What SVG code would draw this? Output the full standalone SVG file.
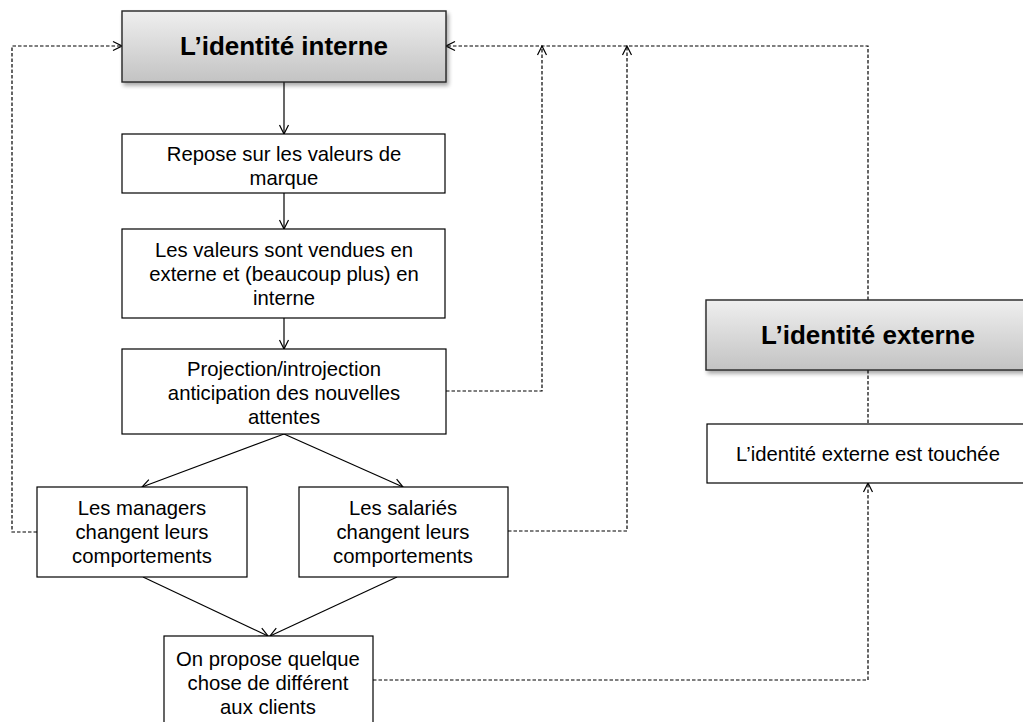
<svg xmlns="http://www.w3.org/2000/svg" width="1023" height="722" viewBox="0 0 1023 722">
<style>
.box{fill:#ffffff;stroke:#000000;stroke-width:1.2}
.hdr{fill:url(#grad);stroke:#262626;stroke-width:1.4;filter:url(#shadow)}
.t{font-family:"Liberation Sans",Arial,sans-serif;font-size:20.3px;fill:#000000;text-anchor:middle}
.h{font-family:"Liberation Sans",Arial,sans-serif;font-size:26px;font-weight:bold;fill:#000000;text-anchor:middle}
.solid{fill:none;stroke:#000000;stroke-width:1.2;marker-end:url(#arr)}
.dash{fill:none;stroke:#000000;stroke-width:1.2;stroke-dasharray:3.5 2}
.dashA{fill:none;stroke:#000000;stroke-width:1.2;stroke-dasharray:3.5 2;marker-end:url(#arr)}
</style>
<defs>
<linearGradient id="grad" x1="0" y1="0" x2="0" y2="1">
<stop offset="0" stop-color="#efefef"/>
<stop offset="1" stop-color="#c3c3c3"/>
</linearGradient>
<filter id="shadow" x="-5%" y="-10%" width="115%" height="140%">
<feGaussianBlur in="SourceAlpha" stdDeviation="2"/>
<feOffset dx="2" dy="3" result="b"/>
<feComponentTransfer><feFuncA type="linear" slope="0.35"/></feComponentTransfer>
<feMerge><feMergeNode/><feMergeNode in="SourceGraphic"/></feMerge>
</filter>
<marker id="arr" viewBox="0 0 12 12" refX="11" refY="6" markerWidth="12" markerHeight="12" markerUnits="userSpaceOnUse" orient="auto">
<path d="M2,1.5 L11,6 L2,10.5" fill="none" stroke="#000000" stroke-width="1.2"/>
</marker>
</defs>
<rect width="1023" height="722" fill="#ffffff"/>

<g id="connectors">
<line class="solid" x1="284" y1="82" x2="284" y2="134"/>
<line class="solid" x1="284" y1="193" x2="284" y2="229"/>
<line class="solid" x1="284" y1="318" x2="284" y2="349"/>
<line class="solid" x1="284" y1="434" x2="142" y2="487"/>
<line class="solid" x1="284" y1="434" x2="403" y2="487"/>
<line class="solid" x1="143" y1="577" x2="268" y2="636"/>
<line class="solid" x1="397" y1="577" x2="270" y2="636"/>
<polyline class="dashA" points="446,391 542,391 542,46"/>
<polyline class="dashA" points="508,531 627,531 627,46"/>
<polyline class="dashA" points="37,532 12,532 12,46 122,46"/>
<polyline class="dashA" points="868,300 868,46 446,46"/>
<line class="dash" x1="868" y1="370" x2="868" y2="424"/>
<polyline class="dashA" points="373,680 868,680 868,483"/>
</g>

<g id="node-identite-interne">
<rect class="hdr" x="122" y="11" width="324" height="71"/>
<text class="h" x="284" y="55">L’identité interne</text>
</g>

<g id="node-repose">
<rect class="box" x="122" y="134" width="323" height="59"/>
<text class="t" x="284" y="161">Repose sur les valeurs de</text>
<text class="t" x="284" y="185">marque</text>
</g>

<g id="node-valeurs">
<rect class="box" x="122" y="229" width="323" height="89"/>
<text class="t" x="284" y="257">Les valeurs sont vendues en</text>
<text class="t" x="284" y="281">externe et (beaucoup plus) en</text>
<text class="t" x="284" y="305">interne</text>
</g>

<g id="node-projection">
<rect class="box" x="122" y="349" width="324" height="85"/>
<text class="t" x="284" y="376">Projection/introjection</text>
<text class="t" x="284" y="400">anticipation des nouvelles</text>
<text class="t" x="284" y="424">attentes</text>
</g>

<g id="node-managers">
<rect class="box" x="37" y="487" width="210" height="90"/>
<text class="t" x="142" y="515">Les managers</text>
<text class="t" x="142" y="539">changent leurs</text>
<text class="t" x="142" y="563">comportements</text>
</g>

<g id="node-salaries">
<rect class="box" x="299" y="487" width="209" height="90"/>
<text class="t" x="403" y="515">Les salariés</text>
<text class="t" x="403" y="539">changent leurs</text>
<text class="t" x="403" y="563">comportements</text>
</g>

<g id="node-propose">
<rect class="box" x="164" y="636" width="209" height="100"/>
<text class="t" x="268" y="666">On propose quelque</text>
<text class="t" x="268" y="690">chose de différent</text>
<text class="t" x="268" y="714">aux clients</text>
</g>

<g id="node-identite-externe">
<rect class="hdr" x="706" y="300" width="325" height="70"/>
<text class="h" x="868" y="344">L’identité externe</text>
</g>

<g id="node-externe-touchee">
<rect class="box" x="707" y="424" width="324" height="59"/>
<text class="t" x="868" y="461">L’identité externe est touchée</text>
</g>
</svg>
